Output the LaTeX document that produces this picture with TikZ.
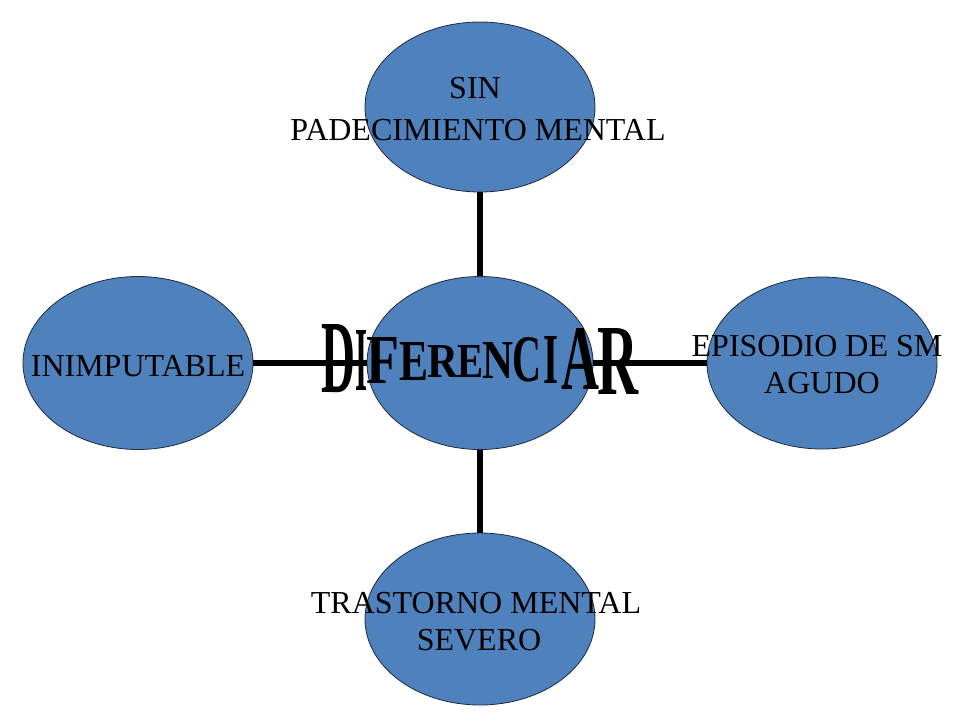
\documentclass[tikz,border=0pt]{standalone}
\usepackage{fontspec}
\setmainfont{Liberation Serif}
\usepackage{graphicx}
\definecolor{ovfill}{RGB}{79,129,189}
\definecolor{ovline}{RGB}{30,42,62}
\tikzset{
  oval/.style={ellipse, draw=ovline, line width=0.8pt, fill=ovfill, inner sep=0pt},
  conn/.style={line width=6.5pt, draw=black},
  lbl/.style={anchor=base, inner sep=0pt, font=\fontsize{32}{38}\selectfont},
  wletter/.style={inner sep=0pt, outer sep=0pt, font=\fontsize{48}{48}\selectfont\bfseries}
}
\usetikzlibrary{shapes.geometric}
\newcommand\wartl[6]{\node[wletter] (#1) at (#2,#3) {\resizebox{#4pt}{#5pt}{#6}};}
\begin{document}
\begin{tikzpicture}[x=1pt,y=-1pt]
\useasboundingbox (0,0) rectangle (960,720);
% ellipses
\node[oval, minimum width=230pt, minimum height=170pt] (top) at (480,107) {};
\node[oval, minimum width=226pt, minimum height=173pt] (ctr) at (480,363) {};
\node[oval, minimum width=230pt, minimum height=173pt] (lft) at (138,363) {};
\node[oval, minimum width=230pt, minimum height=172pt] (rgt) at (822,363) {};
\node[oval, minimum width=230pt, minimum height=172pt] (bot) at (480,619) {};
% connectors
\draw[conn] (top.south) -- (ctr.north);
\draw[conn] (ctr.south) -- (bot.north);
\draw[conn] (lft.east) -- (ctr.west);
\draw[conn] (ctr.east) -- (rgt.west);
% labels
\node[lbl] (t1) at (475,98) {SIN};
\node[lbl] (t2) at (478,140) {PADECIMIENTO MENTAL};
\node[lbl] (l1) at (138,376) {INIMPUTABLE};
\node[lbl] (r1) at (817,356) {EPISODIO DE SM};
\node[lbl] (r2) at (822,393) {AGUDO};
\node[lbl] (b1) at (476,613) {TRASTORNO MENTAL};
\node[lbl] (b2) at (479,650) {SEVERO};
% WordArt word
\wartl{w1}{338}{359}{34}{68}{D}
\wartl{w2}{361}{360}{12}{60}{I}
\wartl{w3}{383}{360}{33}{46}{F}
\wartl{w4}{414}{361}{29}{38}{E}
\wartl{w5}{443}{361}{31}{32}{R}
\wartl{w6}{470.5}{361}{26}{32}{E}
\wartl{w7}{498}{360}{31}{36}{N}
\wartl{w8}{527}{360}{29}{44}{C}
\wartl{w9}{550.5}{359.5}{15}{47}{I}
\wartl{w10}{580}{358.5}{38}{61}{A}
\wartl{w11}{618}{361}{41}{66}{R}
\end{tikzpicture}
\end{document}
